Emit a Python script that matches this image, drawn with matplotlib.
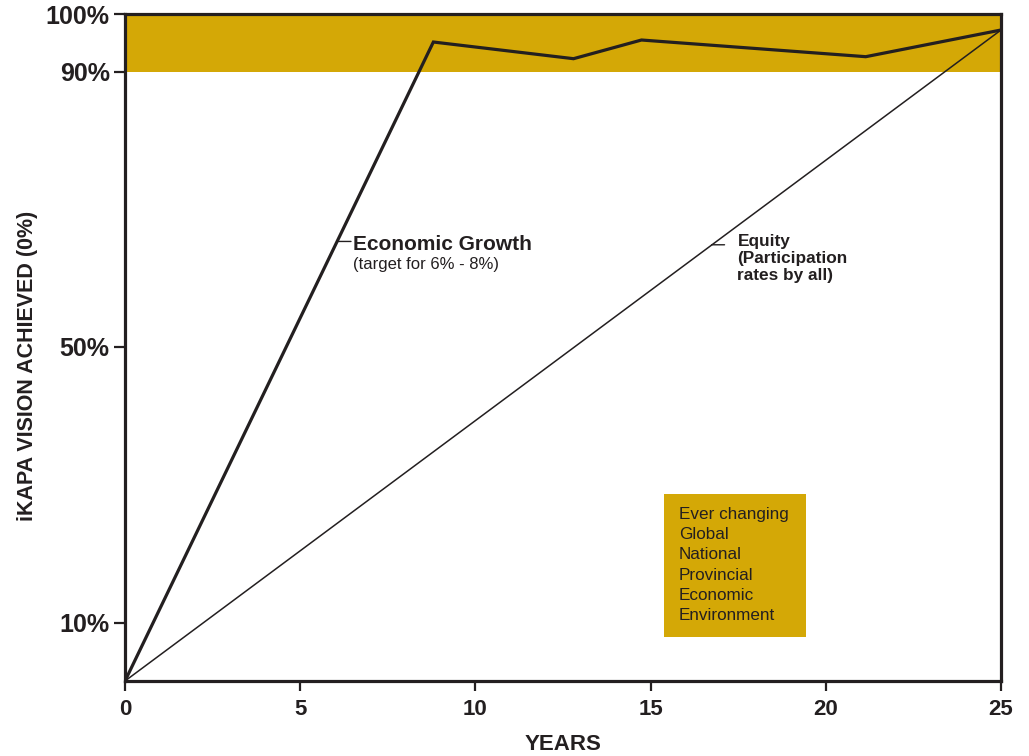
import matplotlib
matplotlib.use('Agg')
import matplotlib.pyplot as plt
from matplotlib.patches import Rectangle

plt.rcParams['font.family'] = ['Liberation Sans', 'DejaVu Sans']

# chart values (y in axis units, the original axis is schematic, not linear)
years = [0, 5, 10, 15, 20, 25]
eco_x = [0, 8.8, 12.8, 14.74, 21.14, 25]
eco_y = [0, 95.8, 93.3, 96.1, 93.6, 97.6]
equity_x = [0, 25]
equity_y = [0, 97.6]
ytick_pos = [8.7, 50.1, 91.35, 100]
ytick_labels = ['10%', '50%', '90%', '100%']
band = (91.35, 100)
box_lines = ['Ever changing', 'Global', 'National', 'Provincial', 'Economic', 'Environment']

gold = '#D4A806'
ink = '#231F20'

fig = plt.figure(figsize=(10.29, 7.56), dpi=100)
ax = fig.add_axes([125/1029, 1 - 681/756, 876/1029, 667/756])
ax.set_xlim(0, 25)
ax.set_ylim(0, 100)

ax.axhspan(band[0], band[1], color=gold, lw=0, zorder=0)

ax.plot(eco_x, eco_y, color=ink, lw=2.3, solid_joinstyle='miter', zorder=3)
ax.plot(equity_x, equity_y, color=ink, lw=1.1, zorder=3)

# label for economic growth
ax.annotate('', xy=(6.05, 65.9), xytext=(6.45, 65.9),
            arrowprops=dict(arrowstyle='-', color=ink, lw=1.0, shrinkA=0, shrinkB=0))
ax.text(6.5, 65.5, 'Economic Growth', fontsize=15, fontweight='bold', color=ink, va='center', ha='left')
ax.text(6.5, 62.5, '(target for 6% - 8%)', fontsize=12, color=ink, va='center', ha='left')

# label for equity
ax.annotate('', xy=(16.74, 65.4), xytext=(17.11, 65.4),
            arrowprops=dict(arrowstyle='-', color=ink, lw=1.0, shrinkA=0, shrinkB=0))
ax.text(17.48, 63.4, 'Equity\n(Participation\nrates by all)', fontsize=12.4, fontweight='bold',
        color=ink, va='center', ha='left', linespacing=1.17)

# environment box
ax.add_patch(Rectangle((15.37, 6.6), 4.06, 21.44, facecolor=gold, edgecolor='none', zorder=2))
ax.text(15.8, 17.4, '\n'.join(box_lines), fontsize=12.3, color=ink, va='center', ha='left',
        linespacing=1.44, zorder=4)

ax.set_xticks(years)
ax.set_xticklabels([str(y) for y in years])
ax.set_yticks(ytick_pos)
ax.set_yticklabels(ytick_labels)
ax.tick_params(axis='y', length=8, width=1.6, color=ink, labelsize=18, pad=3, labelcolor=ink)
ax.tick_params(axis='x', length=7, width=1.6, color=ink, labelsize=16, pad=6, labelcolor=ink)
for lab in ax.get_xticklabels() + ax.get_yticklabels():
    lab.set_fontweight('bold')

for s in ax.spines.values():
    s.set_linewidth(2.3)
    s.set_color(ink)

fig.text(28/1029, 1 - 366/756, 'iKAPA VISION ACHIEVED (0%)', rotation=90, fontsize=15.5,
         fontweight='bold', color=ink, ha='center', va='center')
fig.text(563/1029, 1 - 745/756, 'YEARS', fontsize=16, fontweight='bold', color=ink,
         ha='center', va='center')

fig.savefig('out.png', dpi=100)
